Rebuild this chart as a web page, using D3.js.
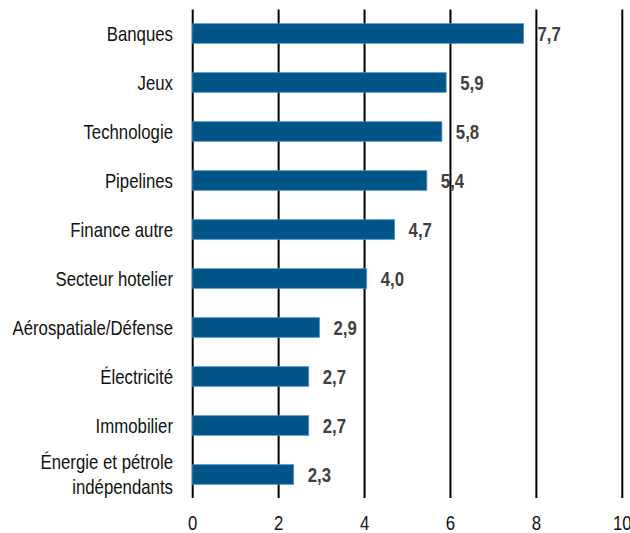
<!DOCTYPE html>
<html>
<head>
<meta charset="utf-8">
<script src="https://cdn.jsdelivr.net/npm/d3@7"></script>
<style>
  body { margin: 0; background: #fff; }
  text { font-family: "Liberation Sans", Arial, sans-serif; }
</style>
</head>
<body>
<div id="chart"></div>
<script>
var categories = ["Banques", "Jeux", "Technologie", "Pipelines", "Finance autre",
  "Secteur hotelier", "Aérospatiale/Défense", "Électricité", "Immobilier",
  "Énergie et pétrole\nindépendants"];
var values = [7.7, 5.9, 5.8, 5.45, 4.7, 4.05, 2.95, 2.7, 2.7, 2.35];
var valueLabels = ["7,7", "5,9", "5,8", "5,4", "4,7", "4,0", "2,9", "2,7", "2,7", "2,3"];
var ticks = [0, 2, 4, 6, 8, 10];

var width = 630;
var height = 533;
var squeeze = 0.84; // fake a narrow font, no Arial Narrow here

var svg = d3.select("#chart").append("svg")
    .attr("width", width)
    .attr("height", height);

var x = d3.scaleLinear().domain([0, 10]).range([192.7, 622.3]);
var y = d3.scaleBand().domain(categories).range([9, 499]).paddingInner(0.6).paddingOuter(0.3);

function place(px, py) {
  return "translate(" + px + "," + py + ") scale(" + squeeze + ",1)";
}

// value labels (drawn first, gridlines sit on top of them)
svg.append("g").selectAll("text")
    .data(values)
    .enter().append("text")
    .attr("transform", function(d, i) {
      return place(x(d) + 14, y(categories[i]) + y.bandwidth() / 2);
    })
    .attr("dy", "0.36em")
    .attr("font-size", 20)
    .attr("font-weight", "bold")
    .attr("fill", "#404040")
    .text(function(d, i) { return valueLabels[i]; });

// vertical gridlines
svg.append("g").selectAll("line")
    .data(ticks)
    .enter().append("line")
    .attr("x1", function(d) { return x(d); })
    .attr("x2", function(d) { return x(d); })
    .attr("y1", 9.5)
    .attr("y2", 498)
    .attr("stroke", "#000")
    .attr("stroke-width", 2);

// bars
svg.append("g").selectAll("rect")
    .data(values)
    .enter().append("rect")
    .attr("x", x(0))
    .attr("y", function(d, i) { return y(categories[i]); })
    .attr("width", function(d) { return x(d) - x(0); })
    .attr("height", y.bandwidth())
    .attr("fill", "#005487")
    .attr("stroke", "#4a8fc4")
    .attr("stroke-width", 0.8);

// category labels
svg.append("g").selectAll("text")
    .data(categories)
    .enter().append("text")
    .attr("transform", function(d) { return place(173, y(d) + y.bandwidth() / 2); })
    .attr("text-anchor", "end")
    .attr("font-size", 20)
    .attr("fill", "#111")
    .each(function(d) {
      var lines = d.split("\n");
      var t = d3.select(this);
      lines.forEach(function(l, j) {
        t.append("tspan")
          .attr("x", 0)
          .attr("y", (j - (lines.length - 1) / 2) * 25)
          .attr("dy", "0.36em")
          .text(l);
      });
    });

// tick labels
svg.append("g").selectAll("text")
    .data(ticks)
    .enter().append("text")
    .attr("transform", function(d) { return place(x(d), 523); })
    .attr("dy", "0.36em")
    .attr("text-anchor", "middle")
    .attr("font-size", 20)
    .attr("fill", "#111")
    .text(function(d) { return d; });
</script>
</body>
</html>
